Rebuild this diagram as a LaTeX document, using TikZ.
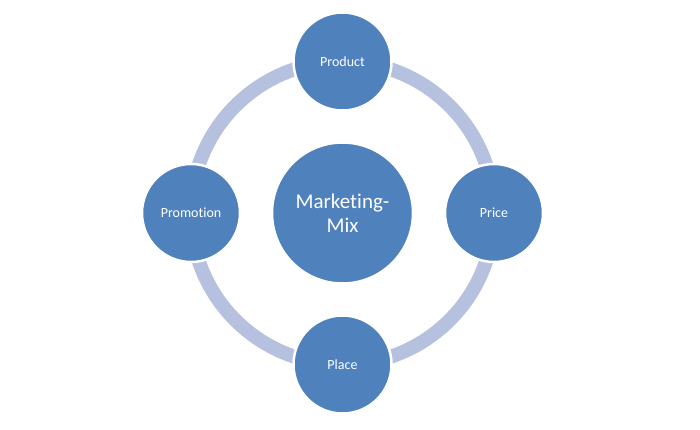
\documentclass[tikz,border=0pt]{standalone}
\usepackage{fontspec}
\setmainfont{Carlito}[Ligatures={NoCommon}]
\definecolor{nodeblue}{RGB}{79,129,189}
\definecolor{ringblue}{RGB}{181,193,223}
\begin{document}
\begin{tikzpicture}[x=1pt,y=-1pt,
  outer/.style={circle,fill=nodeblue,draw=white,line width=2.5pt,minimum size=98pt,inner sep=0pt,text=white,font=\fontsize{14}{16}\selectfont},
  hub/.style={circle,fill=nodeblue,draw=white,line width=2.5pt,minimum size=141pt,inner sep=0pt,text=white,align=center,font=\fontsize{21}{24}\selectfont},
  ring/.style={draw=ringblue,line width=14pt}]
\useasboundingbox (0,0) rectangle (700,430);
\coordinate (c) at (342.5,213);
\draw[ring] (c) circle[radius=151.5];
\node[hub] (mix) at (c) {Marketing-\\Mix};
\node[outer] (product) at (342.5,61.5) {Product};
\node[outer] (price) at (494,213) {Price};
\node[outer] (place) at (342.5,364.5) {Place};
\node[outer] (promotion) at (191,213) {Promotion};
\end{tikzpicture}
\end{document}
